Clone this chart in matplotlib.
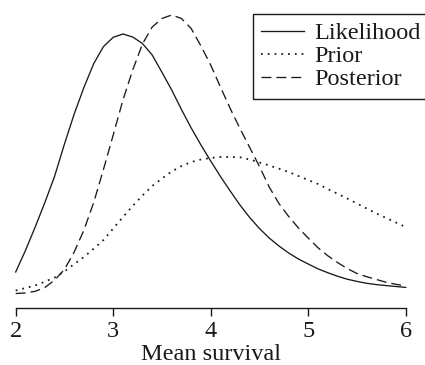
import matplotlib
matplotlib.use("Agg")
import matplotlib.pyplot as plt

plt.rcParams['font.family'] = ['Liberation Serif', 'DejaVu Serif']

mean_survival = [2.0, 2.1, 2.2, 2.3, 2.4, 2.5, 2.6, 2.7, 2.8, 2.9,
                 3.0, 3.1, 3.2, 3.3, 3.4, 3.5, 3.6, 3.7, 3.8, 3.9,
                 4.0, 4.1, 4.2, 4.3, 4.4, 4.5, 4.6, 4.7, 4.8, 4.9,
                 5.0, 5.1, 5.2, 5.3, 5.4, 5.5, 5.6, 5.7, 5.8, 5.9, 6.0]

likelihood = [0.360, 0.575, 0.810, 1.057, 1.320, 1.640, 1.940, 2.207, 2.443, 2.614,
              2.707, 2.740, 2.710, 2.645, 2.530, 2.357, 2.180, 1.985, 1.800, 1.630,
              1.470, 1.315, 1.170, 1.030, 0.905, 0.795, 0.700, 0.620, 0.550, 0.490,
              0.440, 0.392, 0.353, 0.318, 0.288, 0.266, 0.247, 0.234, 0.224, 0.215, 0.206]

prior = [0.175, 0.200, 0.225, 0.264, 0.305, 0.365, 0.440, 0.510, 0.593, 0.680,
         0.795, 0.910, 1.020, 1.125, 1.220, 1.295, 1.365, 1.420, 1.460, 1.485,
         1.500, 1.510, 1.510, 1.507, 1.485, 1.455, 1.425, 1.393, 1.360, 1.320,
         1.280, 1.240, 1.190, 1.143, 1.095, 1.045, 0.995, 0.945, 0.900, 0.855, 0.810]

posterior = [0.145, 0.150, 0.167, 0.205, 0.280, 0.385, 0.560, 0.780, 1.055, 1.385,
             1.730, 2.080, 2.380, 2.640, 2.810, 2.895, 2.930, 2.895, 2.795, 2.620,
             2.430, 2.210, 1.995, 1.795, 1.605, 1.415, 1.210, 1.045, 0.915, 0.800,
             0.700, 0.603, 0.523, 0.455, 0.395, 0.345, 0.313, 0.285, 0.257, 0.237, 0.220]

x_ticks = [2, 3, 4, 5, 6]
labels = ["Likelihood", "Prior", "Posterior"]

W, H = 425, 365
fig = plt.figure(figsize=(W / 100, H / 100), dpi=100)
ax_left = 15.7 / W
ax_width = 390.0 / W
ax_bottom = (H - 308.0) / H
ax = fig.add_axes([ax_left, ax_bottom, ax_width, 1 - ax_bottom])

ink = "#1a1a1a"
fs = 17.5
lw = 0.95
ax.plot(mean_survival, likelihood, color=ink, lw=lw, linestyle="-",
        label=labels[0], clip_on=False, solid_joinstyle="round")
ax.plot(mean_survival, prior, color=ink, lw=lw * 1.35, linestyle=(0, (1.0, 2.8)),
        label=labels[1], clip_on=False)
ax.plot(mean_survival, posterior, color=ink, lw=lw, linestyle=(0, (7.5, 3.8)),
        label=labels[2], clip_on=False)

ax.set_xlim(2, 6)
ax.set_ylim(0, 3.08)
ax.set_xticks(x_ticks)
ax.set_xticklabels([str(t) for t in x_ticks])
ax.set_yticks([])
for s in ["left", "right", "top"]:
    ax.spines[s].set_visible(False)
ax.spines["bottom"].set_bounds(2, 6)
ax.spines["bottom"].set_color(ink)
ax.spines["bottom"].set_linewidth(1.0)
ax.tick_params(axis="x", direction="out", length=5.5, width=1.0, color=ink,
               labelsize=fs, labelcolor=ink, pad=4)
ax.set_xlabel("Mean survival", fontsize=fs, color=ink, labelpad=1)
ax.patch.set_alpha(0)

leg = ax.legend(loc="upper left", bbox_to_anchor=(253 / W, 1 - 14 / H),
                bbox_transform=fig.transFigure, fontsize=fs,
                frameon=True, fancybox=False, shadow=False, framealpha=1,
                edgecolor=ink, handlelength=1.78, handletextpad=0.41,
                borderpad=0.33, labelspacing=0.05, borderaxespad=0)
leg.get_frame().set_linewidth(1.0)
for t in leg.get_texts():
    t.set_color(ink)

fig.savefig("out.png", dpi=100)
